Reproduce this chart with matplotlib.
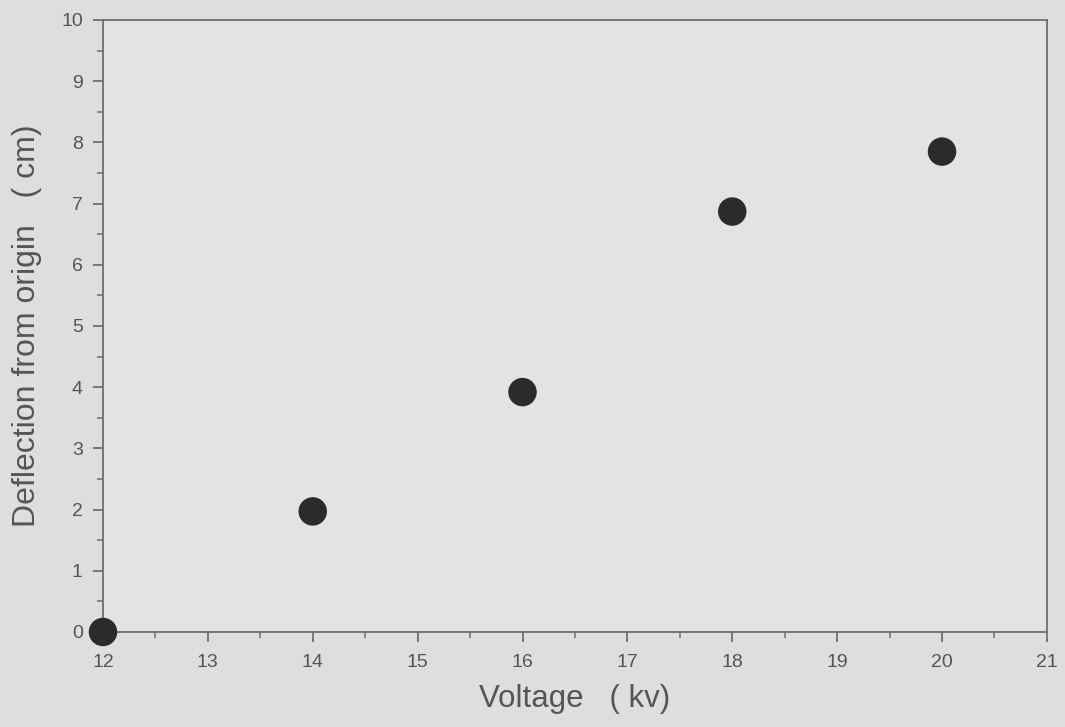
import matplotlib
matplotlib.use("Agg")
import matplotlib.pyplot as plt
from matplotlib.ticker import MultipleLocator

# Measured deflection of the beam versus accelerating voltage
voltage_kv = [12, 14, 16, 18, 20]
deflection_cm = [0.0, 1.97, 3.92, 6.87, 7.85]

x_ticks = [12, 13, 14, 15, 16, 17, 18, 19, 20, 21]
y_ticks = [0, 1, 2, 3, 4, 5, 6, 7, 8, 9, 10]

plt.rcParams['font.family'] = ['Liberation Sans', 'DejaVu Sans']

bg = '#dedede'
axis_col = '#6e6e6e'
text_col = '#555555'

fig = plt.figure(figsize=(10.65, 7.27), dpi=100, facecolor=bg)
ax = fig.add_axes([0.0967, 0.1307, 0.8863, 0.8418])
ax.set_facecolor('#e3e3e3')

ax.scatter(voltage_kv, deflection_cm, s=420, color='#2b2b2b', zorder=5,
           clip_on=False, edgecolors='none')

ax.set_xlim(12, 21)
ax.set_ylim(0, 10)
ax.set_xticks(x_ticks)
ax.set_yticks(y_ticks)
ax.xaxis.set_minor_locator(MultipleLocator(0.5))
ax.yaxis.set_minor_locator(MultipleLocator(0.5))

for sp in ax.spines.values():
    sp.set_color(axis_col)
    sp.set_linewidth(1.3)

ax.tick_params(which='major', direction='out', length=7.5, width=1.3,
               color=axis_col, labelcolor=text_col, labelsize=14, pad=8)
ax.tick_params(which='minor', direction='out', length=4, width=1.1,
               color=axis_col)
ax.tick_params(axis='y', which='major', pad=7)

ax.set_xlabel('Voltage   ( kv)', fontsize=22.5, color=text_col, labelpad=10)
ax.set_ylabel('Deflection from origin   ( cm)', fontsize=23, color=text_col,
              labelpad=14)

fig.savefig('out.png', dpi=100, facecolor=bg)
